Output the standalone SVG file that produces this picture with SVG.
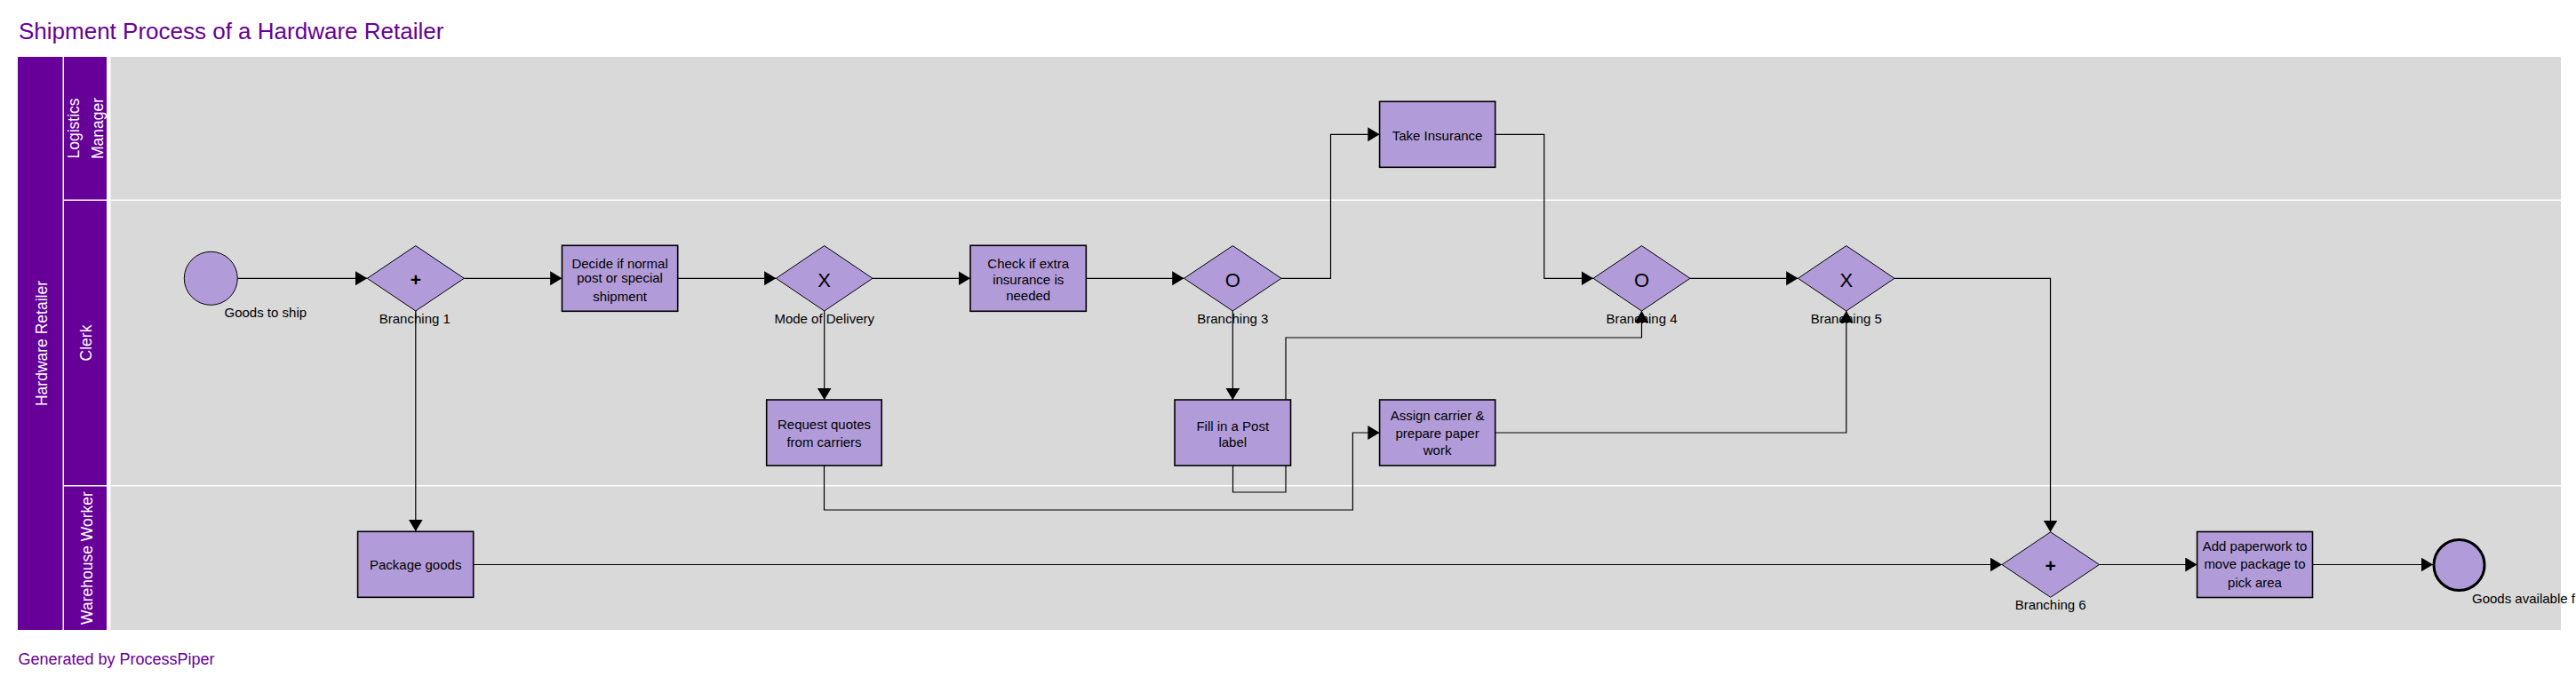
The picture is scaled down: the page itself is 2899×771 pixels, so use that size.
<svg xmlns="http://www.w3.org/2000/svg" width="2899" height="771" viewBox="0 0 2899 771">
<style>
text{font-family:"Liberation Sans",Arial,sans-serif}
.title{font-size:26px;fill:#660099}
.foot{font-size:18px;fill:#660099}
.pool{fill:#660099}
.lane{fill:#d9d9d9}
.lt{font-size:17.5px;fill:#ffffff;text-anchor:middle}
.task{fill:#b19cd9;stroke:#000;stroke-width:1.6}
.gw{fill:#b19cd9;stroke:#000;stroke-width:1}
.ev{fill:#b19cd9;stroke:#000;stroke-width:1}
.evEnd{fill:#b19cd9;stroke:#000;stroke-width:3}
.tt{font-size:15px;fill:#000;text-anchor:middle}
.lbl{font-size:15px;fill:#000}
.lblc{font-size:15px;fill:#000;text-anchor:middle}
.sym{font-size:22px;fill:#000;text-anchor:middle}
.conn{fill:none;stroke:#000;stroke-width:1.2;marker-end:url(#arr)}
</style>
<defs>
<marker id="arr" markerUnits="userSpaceOnUse" markerWidth="14" markerHeight="17" refX="13.3" refY="8" orient="auto">
<path d="M0,0 L13.3,8 L0,16 Z" fill="#000"/>
</marker>
</defs>
<rect width="2899" height="771" fill="#ffffff"/>
<text class="title" x="21" y="43.5">Shipment Process of a Hardware Retailer</text>

<g id="pool">
<rect class="pool" x="20" y="64" width="50.5" height="645"/>
<text class="lt" transform="translate(53,386.5) rotate(-90)">Hardware Retailer</text>
</g>
<g id="lane-logistics">
<rect class="pool" x="72" y="64" width="48" height="160.5"/>
<rect class="lane" x="124.5" y="64" width="2757.5" height="160.5"/>
<text class="lt" transform="translate(88.5,144.5) rotate(-90)">Logistics</text>
<text class="lt" transform="translate(115.5,144.5) rotate(-90)">Manager</text>
</g>
<g id="lane-clerk">
<rect class="pool" x="72" y="226" width="48" height="320"/>
<rect class="lane" x="124.5" y="226" width="2757.5" height="320"/>
<text class="lt" transform="translate(103,386) rotate(-90)">Clerk</text>
</g>
<g id="lane-warehouse">
<rect class="pool" x="72" y="547.5" width="48" height="161.5"/>
<rect class="lane" x="124.5" y="547.5" width="2757.5" height="161.5"/>
<text class="lt" transform="translate(103.5,628) rotate(-90)">Warehouse Worker</text>
</g>

<g id="connectors">
<path class="conn" d="M267.3,313.3 H413.3"/>
<path class="conn" d="M522.3,313.3 H632.5"/>
<path class="conn" d="M467.8,350 V598"/>
<path class="conn" d="M762.7,313.3 H873.4"/>
<path class="conn" d="M982,313.3 H1092"/>
<path class="conn" d="M927.7,350 V450"/>
<path class="conn" d="M1222.3,313.3 H1332.5"/>
<path class="conn" d="M1442,313.3 H1497.5 V151.3 H1552.6"/>
<path class="conn" d="M1387.3,350 V450"/>
<path class="conn" d="M1682.7,151.3 H1737.8 V313.3 H1793"/>
<path class="conn" d="M1387.5,524 V554 H1447 V380 H1847.5 V350"/>
<path class="conn" d="M927.5,524 V574 H1522.4 V487 H1552.6"/>
<path class="conn" d="M1682.7,487 H2077.8 V350"/>
<path class="conn" d="M1902,313.3 H2023.5"/>
<path class="conn" d="M2132,313.3 H2307.5 V598.8"/>
<path class="conn" d="M532.7,635.5 H2253"/>
<path class="conn" d="M2362.5,635.5 H2472.6"/>
<path class="conn" d="M2602.5,635.5 H2738"/>
</g>

<g id="start">
<circle class="ev" cx="237.3" cy="313.3" r="30"/>
<text class="lbl" x="252.5" y="357.3">Goods to ship</text>
</g>
<g id="branching1">
<polygon class="gw" points="413.3,313.3 467.8,276.6 522.3,313.3 467.8,350"/>
<text x="467.8" y="321.5" style="font-size:21px;font-weight:bold;text-anchor:middle">+</text>
<text class="lblc" x="466.8" y="364">Branching 1</text>
</g>
<g id="decide">
<rect class="task" x="632.5" y="276.3" width="130.2" height="74"/>
<text class="tt" x="697.6" y="302.3">Decide if normal</text>
<text class="tt" x="697.6" y="318.3">post or special</text>
<text class="tt" x="697.6" y="339">shipment</text>
</g>
<g id="mode">
<polygon class="gw" points="873.4,313.3 927.7,276.6 982,313.3 927.7,350"/>
<text class="sym" x="927.7" y="322.7">X</text>
<text class="lblc" x="927.7" y="364">Mode of Delivery</text>
</g>
<g id="check">
<rect class="task" x="1092" y="276.3" width="130.3" height="74"/>
<text class="tt" x="1157.2" y="302.3">Check if extra</text>
<text class="tt" x="1157.2" y="320">insurance is</text>
<text class="tt" x="1157.2" y="337.7">needed</text>
</g>
<g id="branching3">
<polygon class="gw" points="1332.5,313.3 1387.3,276.6 1442,313.3 1387.3,350"/>
<text class="sym" x="1387.3" y="322.7">O</text>
<text class="lblc" x="1387.3" y="364">Branching 3</text>
</g>
<g id="take">
<rect class="task" x="1552.6" y="114.3" width="130.1" height="74"/>
<text class="tt" x="1617.6" y="158">Take Insurance</text>
</g>
<g id="branching4">
<polygon class="gw" points="1793,313.3 1847.5,276.6 1902,313.3 1847.5,350"/>
<text class="sym" x="1847.5" y="322.7">O</text>
<text class="lblc" x="1847.5" y="364">Branching 4</text>
</g>
<g id="branching5">
<polygon class="gw" points="2023.5,313.3 2077.8,276.6 2132,313.3 2077.8,350"/>
<text class="sym" x="2077.8" y="322.7">X</text>
<text class="lblc" x="2077.8" y="364">Branching 5</text>
</g>
<g id="request">
<rect class="task" x="862.7" y="450" width="129.5" height="74"/>
<text class="tt" x="927.5" y="483">Request quotes</text>
<text class="tt" x="927.5" y="502.7">from carriers</text>
</g>
<g id="fill">
<rect class="task" x="1322" y="450" width="130.5" height="74"/>
<text class="tt" x="1387.3" y="484.5">Fill in a Post</text>
<text class="tt" x="1387.3" y="502.7">label</text>
</g>
<g id="assign">
<rect class="task" x="1552.6" y="450" width="130.1" height="74"/>
<text class="tt" x="1617.6" y="472.5">Assign carrier &amp;</text>
<text class="tt" x="1617.6" y="492.5">prepare paper</text>
<text class="tt" x="1617.6" y="511.7">work</text>
</g>
<g id="package">
<rect class="task" x="402.6" y="598.3" width="130.1" height="74"/>
<text class="tt" x="467.7" y="640.5">Package goods</text>
</g>
<g id="branching6">
<polygon class="gw" points="2253,635.5 2307.7,598.8 2362.5,635.5 2307.7,672.3"/>
<text x="2307.7" y="643.7" style="font-size:21px;font-weight:bold;text-anchor:middle">+</text>
<text class="lblc" x="2307.7" y="686">Branching 6</text>
</g>
<g id="addpaperwork">
<rect class="task" x="2472.6" y="598.5" width="129.9" height="74"/>
<text class="tt" x="2537.5" y="619.5">Add paperwork to</text>
<text class="tt" x="2537.5" y="639.5">move package to</text>
<text class="tt" x="2537.5" y="660.7">pick area</text>
</g>
<g id="end">
<circle class="evEnd" cx="2767.5" cy="636" r="28.5"/>
<text class="lbl" x="2782" y="679">Goods available f</text>
</g>

<text class="foot" x="20.5" y="747.5">Generated by ProcessPiper</text>
</svg>
